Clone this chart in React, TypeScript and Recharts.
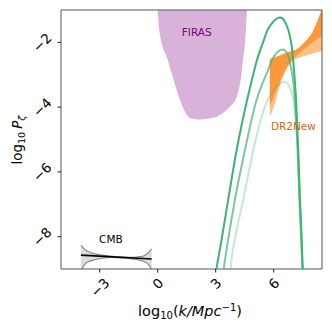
import React from "react";
import {
  ComposedChart,
  Area,
  Line,
  XAxis,
  YAxis,
  ReferenceArea,
  ReferenceDot,
  Label,
} from "recharts";

// ---------- axes ----------
const xDomain: [number, number] = [-5, 8.5];
const yDomain: [number, number] = [-9, -1];
const xTicks = [-3, 0, 3, 6];
const yTicks = [-8, -6, -4, -2];

// ---------- FIRAS excluded region ----------
const firasX = [-0.03, 0.1, 0.5, 0.75, 1.0, 1.3, 1.52, 1.75, 2.1, 2.6, 3.05, 3.35, 3.57, 3.8, 4.08, 4.22, 4.33, 4.42, 4.52, 4.62, 4.64];
const firasLow = [-0.8, -1.7, -2.5, -3.0, -3.5, -4.0, -4.25, -4.35, -4.38, -4.36, -4.3, -4.2, -4.08, -3.95, -3.7, -3.4, -3.0, -2.5, -2.0, -1.0, -0.8];
const firasTop = 0;

// ---------- CMB ----------
const cmbX = [-3.97, -3.67, -3.16, -2.47, -1.8, -1.43, -1.09, -0.74, -0.49, -0.31];
const cmbUpper = [-8.27, -8.44, -8.54, -8.6, -8.63, -8.64, -8.63, -8.6, -8.5, -8.38];
const cmbLower = [-9.05, -8.8, -8.7, -8.64, -8.66, -8.68, -8.7, -8.76, -8.85, -9.02];
const cmbLineX = [-3.97, -0.31];
const cmbLineY = [-8.57, -8.69];

// ---------- DR2New band ----------
const drX = [5.8, 6.0, 6.4, 6.8, 7.2, 7.6, 8.0, 8.5];
const drOuterHigh = [-2.5, -2.47, -2.37, -2.28, -2.2, -1.98, -1.68, -0.95];
const drOuterLow = [-4.3, -4.0, -3.2, -2.7, -2.5, -2.42, -2.35, -2.27];
const drInnerHigh = [-2.55, -2.5, -2.4, -2.3, -2.22, -2.0, -1.7, -0.95];
const drInnerLow = [-3.95, -3.7, -3.1, -2.65, -2.4, -2.2, -2.0, -1.81];

// ---------- model curves ----------
const curve1X = [2.97, 3.05, 3.31, 3.65, 4.09, 4.6, 4.86, 5.12, 5.45, 5.7, 5.95, 6.15, 6.34, 6.55, 6.78, 6.95, 7.07, 7.16, 7.27, 7.36, 7.45, 7.5, 7.52];
const curve1Y = [-9.2, -8.95, -8.08, -6.85, -5.31, -3.85, -3.19, -2.58, -2.0, -1.6, -1.38, -1.27, -1.23, -1.33, -1.66, -2.2, -2.99, -3.8, -5.3, -6.85, -8.08, -8.95, -9.2];
const curve2X = [3.38, 3.43, 3.65, 4.0, 4.52, 5.12, 5.4, 5.62, 5.91, 6.2, 6.47, 6.7, 6.86, 7.03, 7.12, 7.24, 7.34, 7.43, 7.49, 7.51];
const curve2Y = [-9.2, -8.95, -8.08, -6.85, -5.31, -3.77, -3.3, -2.99, -2.55, -2.3, -2.22, -2.35, -2.68, -3.3, -4.0, -5.3, -6.85, -8.08, -8.95, -9.2];
const curve3X = [3.76, 3.78, 4.0, 4.43, 4.95, 5.6, 5.85, 6.1, 6.35, 6.6, 6.8, 6.95, 7.12, 7.24, 7.33, 7.42, 7.48, 7.5];
const curve3Y = [-9.2, -8.95, -8.08, -6.85, -5.31, -3.9, -3.6, -3.4, -3.27, -3.22, -3.35, -3.6, -4.22, -5.3, -6.85, -8.08, -8.95, -9.2];

// ---------- labels ----------
const annotations = [
  { text: "FIRAS", x: 2.02, y: -1.69, color: "#800080" },
  { text: "DR2New", x: 7.02, y: -4.59, color: "#d9620e" },
  { text: "CMB", x: -2.42, y: -8.08, color: "#000000" },
];

// ---------- build series ----------
const firasData = firasX.map((x, i) => ({ x, r: [firasLow[i], firasTop] }));
const cmbBand = cmbX.map((x, i) => ({ x, r: [cmbLower[i], cmbUpper[i]] }));
const cmbLine = cmbLineX.map((x, i) => ({ x, y: cmbLineY[i] }));
const drOuter = drX.map((x, i) => ({ x, r: [drOuterLow[i], drOuterHigh[i]] }));
const drInner = drX.map((x, i) => ({ x, r: [drInnerLow[i], drInnerHigh[i]] }));
const c1 = curve1X.map((x, i) => ({ x, y: curve1Y[i] }));
const c2 = curve2X.map((x, i) => ({ x, y: curve2Y[i] }));
const c3 = curve3X.map((x, i) => ({ x, y: curve3Y[i] }));

const FONT = "DejaVu Sans";
const TFS = 13.5;
const fmt = (v: number) => (v < 0 ? "\u2212" + Math.abs(v) : String(v));
const textLen = (s: string) =>
  s.split("").reduce((a, ch) => a + (ch === "\u2212" ? 0.838 : 0.636), 0) * TFS;

const XTick = (props: any) => {
  const { x, y, payload } = props;
  const s = fmt(payload.value);
  const L = textLen(s);
  const half = (L + 0.73 * TFS) * 0.3535;
  const cy = y + 4.5 + half;
  return (
    <text
      x={x}
      y={cy}
      transform={`rotate(-45 ${x} ${cy})`}
      textAnchor="middle"
      dominantBaseline="central"
      fontSize={TFS}
      fontFamily={FONT}
      fill="#000"
    >
      {s}
    </text>
  );
};

const YTick = (props: any) => {
  const { x, y, payload } = props;
  const s = fmt(payload.value);
  const L = textLen(s);
  const half = (L + 0.73 * TFS) * 0.3535;
  const cx = x - 5.0 - half;
  return (
    <text
      x={cx}
      y={y}
      transform={`rotate(-45 ${cx} ${y})`}
      textAnchor="middle"
      dominantBaseline="central"
      fontSize={TFS}
      fontFamily={FONT}
      fill="#000"
    >
      {s}
    </text>
  );
};

const XLabel = () => (
  <text x={182} y={308} textAnchor="middle" fontSize={14.5} fontFamily={FONT} fill="#000">
    <tspan>log</tspan>
    <tspan fontSize={10} dy={3}>10</tspan>
    <tspan dy={-3}>(</tspan>
    <tspan fontStyle="italic">k/Mpc</tspan>
    <tspan fontSize={10} dy={-5}>{"\u22121"}</tspan>
    <tspan dy={5}>)</tspan>
  </text>
);

const YLabel = () => (
  <text
    x={14}
    y={132}
    transform="rotate(-90 14 132)"
    textAnchor="middle"
    fontSize={13.5}
    fontFamily={FONT}
    fill="#000"
  >
    <tspan>log</tspan>
    <tspan fontSize={9.5} dy={3}>10</tspan>
    <tspan dy={-3} dx={3} fontStyle="italic">P</tspan>
    <tspan fontSize={9.5} dy={3} fontStyle="italic">{"\u03b6"}</tspan>
  </text>
);

export default function App() {
  return (
    <ComposedChart
      width={316}
      height={316}
      margin={{ top: 2, right: 2, left: 0, bottom: 0 }}
    >
      <XAxis
        dataKey="x"
        type="number"
        domain={xDomain}
        allowDataOverflow
        ticks={xTicks}
        interval={0}
        height={55}
        tickSize={3.5}
        tickMargin={0}
        axisLine={false}
        tickLine={{ stroke: "#222" }}
        tick={<XTick />}
      >
        <Label content={<XLabel />} />
      </XAxis>
      <YAxis
        type="number"
        domain={yDomain}
        allowDataOverflow
        ticks={yTicks}
        interval={0}
        width={53}
        tickSize={3.5}
        tickMargin={0}
        axisLine={false}
        tickLine={{ stroke: "#222" }}
        tick={<YTick />}
      >
        <Label content={<YLabel />} />
      </YAxis>

      <Area
        data={firasData}
        dataKey="r"
        type="monotone"
        fill="#d8b2d8"
        fillOpacity={1}
        stroke="none"
        isAnimationActive={false}
      />
      <Area
        data={cmbBand}
        dataKey="r"
        type="monotone"
        fill="#dcdcdc"
        fillOpacity={1}
        stroke="#8a8a8a"
        strokeWidth={1.2}
        isAnimationActive={false}
      />
      <Line
        data={cmbLine}
        dataKey="y"
        type="linear"
        stroke="#000"
        strokeWidth={1.6}
        dot={false}
        isAnimationActive={false}
      />
      <Area
        data={drOuter}
        dataKey="r"
        type="monotone"
        fill="#ff7f0e"
        fillOpacity={0.5}
        stroke="none"
        isAnimationActive={false}
      />
      <Area
        data={drInner}
        dataKey="r"
        type="monotone"
        fill="#ff7f0e"
        fillOpacity={0.6}
        stroke="none"
        isAnimationActive={false}
      />
      <Line
        data={c3}
        dataKey="y"
        type="monotone"
        stroke="#3cb371"
        strokeOpacity={0.3}
        strokeWidth={2}
        dot={false}
        isAnimationActive={false}
      />
      <Line
        data={c2}
        dataKey="y"
        type="monotone"
        stroke="#3cb371"
        strokeOpacity={0.7}
        strokeWidth={2}
        dot={false}
        isAnimationActive={false}
      />
      <Line
        data={c1}
        dataKey="y"
        type="monotone"
        stroke="#3cb371"
        strokeWidth={2}
        dot={false}
        isAnimationActive={false}
      />
      {annotations.map((a) => (
        <ReferenceDot
          key={a.text}
          x={a.x}
          y={a.y}
          r={0}
          ifOverflow="visible"
          shape={(p: any) => (
            <text
              x={p.cx}
              y={p.cy}
              textAnchor="middle"
              dominantBaseline="central"
              fontSize={10.5}
              fontFamily={FONT}
              fill={a.color}
            >
              {a.text}
            </text>
          )}
        />
      ))}
      <ReferenceArea
        x1={xDomain[0]}
        x2={xDomain[1]}
        y1={yDomain[0]}
        y2={yDomain[1]}
        fill="none"
        stroke="#555"
        strokeWidth={1}
        ifOverflow="visible"
      />
    </ComposedChart>
  );
}
